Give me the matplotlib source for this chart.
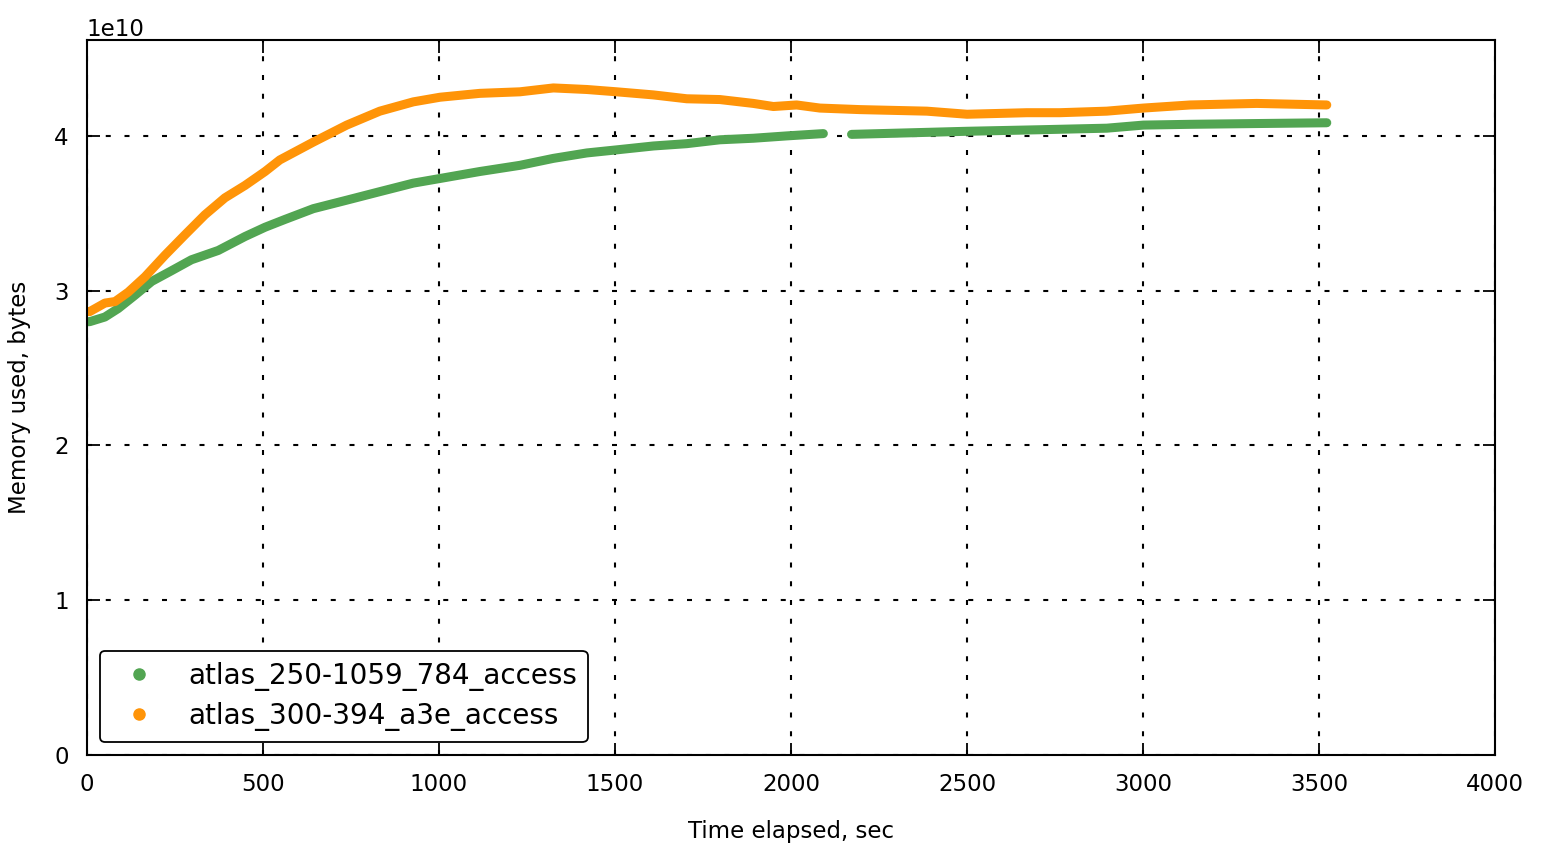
import numpy as np
import matplotlib.pyplot as plt
from matplotlib.lines import Line2D

# time elapsed (sec) and memory used (x1e10 bytes)
green_t1 = [0, 8, 51, 89, 136, 184, 241, 297, 373, 449, 506, 562, 643, 738,
            832, 927, 1003, 1116, 1230, 1325, 1420, 1505, 1609, 1704, 1798,
            1893, 1987, 2092]
green_m1 = [2.80, 2.80, 2.83, 2.885, 2.97, 3.06, 3.13, 3.20, 3.26, 3.35, 3.41,
            3.46, 3.53, 3.585, 3.64, 3.695, 3.725, 3.77, 3.81, 3.855, 3.89,
            3.91, 3.935, 3.95, 3.975, 3.985, 4.00, 4.015]
green_t2 = [2172, 2500, 2707, 2897, 3001, 3134, 3323, 3522]
green_m2 = [4.01, 4.03, 4.04, 4.05, 4.07, 4.075, 4.08, 4.085]

orange_t = [0, 8, 51, 80, 117, 165, 222, 278, 335, 392, 449, 506, 548, 643,
            738, 832, 927, 1003, 1116, 1230, 1325, 1420, 1505, 1609, 1704,
            1798, 1893, 1950, 2016, 2082, 2196, 2386, 2500, 2670, 2764, 2897,
            3001, 3134, 3323, 3522]
orange_m = [2.865, 2.865, 2.92, 2.93, 2.99, 3.09, 3.23, 3.36, 3.49, 3.60, 3.68,
            3.77, 3.845, 3.96, 4.07, 4.16, 4.22, 4.25, 4.275, 4.285, 4.31, 4.30,
            4.285, 4.265, 4.24, 4.235, 4.21, 4.19, 4.20, 4.18, 4.17, 4.16, 4.14,
            4.15, 4.15, 4.16, 4.18, 4.20, 4.21, 4.20]

labels = ['atlas_250-1059_784_access', 'atlas_300-394_a3e_access']
green = '#52a552'
orange = '#ff9408'

fig = plt.figure(figsize=(15.44, 8.52), dpi=100)
ax = fig.add_axes([0.0563, 0.1138, 0.912, 0.8393])

for t, m in [(green_t1, green_m1), (green_t2, green_m2)]:
    ax.plot(t, np.array(m) * 1e10, color=green, lw=6.5, solid_capstyle='round')
ax.plot(orange_t, np.array(orange_m) * 1e10, color=orange, lw=6.5,
        solid_capstyle='round')

ax.set_xlim(0, 4000)
ax.set_ylim(0, 4.62e10)
ax.set_xticks(np.arange(0, 4001, 500))
ax.set_yticks(np.arange(0, 5e10, 1e10))
ax.grid(True, color='black', linestyle=(0, (2.4, 6.6)), linewidth=1.5)
ax.tick_params(direction='in', top=True, right=True, length=9, width=1.3,
               labelsize=16.5, pad=13)
for s in ax.spines.values():
    s.set_linewidth(1.5)
ax.yaxis.get_offset_text().set_fontsize(16.5)
ax.set_xlabel('Time elapsed, sec', fontsize=16.5, labelpad=17.5)
ax.set_ylabel('Memory used, bytes', fontsize=16.5, labelpad=17)

handles = [Line2D([], [], marker='o', color=c, ls='none', markersize=8)
           for c in (green, orange)]
leg = ax.legend(handles, labels, loc='lower left', fontsize=20,
                frameon=True, fancybox=True, borderpad=0.4, handletextpad=0.77,
                labelspacing=0.4, borderaxespad=0, bbox_to_anchor=(0.0092, 0.018))
leg.get_frame().set_edgecolor('black')
leg.get_frame().set_linewidth(1.3)
leg.get_frame().set_alpha(1)

fig.savefig('out.png', dpi=100)
